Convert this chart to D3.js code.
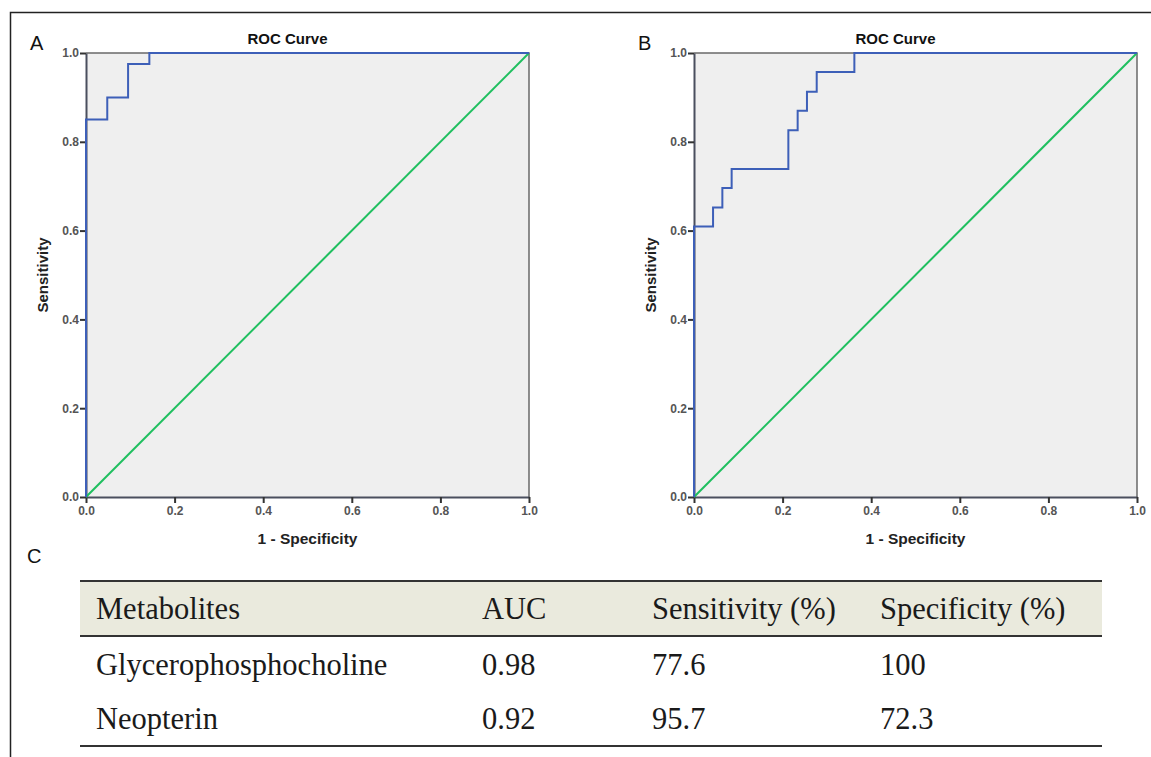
<!DOCTYPE html>
<html>
<head>
<meta charset="utf-8">
<script src="https://cdn.jsdelivr.net/npm/d3@7"></script>
<style>
    body { margin: 0; background: #fff; }
    svg { display: block; }
</style>
</head>
<body>
<div id="chart"></div>
<script>
// ROC curve A: false positive rate / sensitivity at each step
var rocA_fpr = [0, 0, 0.048, 0.095, 0.143, 1.0];
var rocA_tpr = [0, 0.85, 0.90, 0.975, 1.0, 1.0];

// ROC curve B
var rocB_fpr = [0, 0, 0.043, 0.064, 0.085, 0.213, 0.234, 0.255, 0.277, 0.362, 1.0];
var rocB_tpr = [0, 0.609, 0.652, 0.696, 0.739, 0.826, 0.870, 0.913, 0.957, 1.0, 1.0];

var refLine = [0, 1];
var axisTicks = [0, 0.2, 0.4, 0.6, 0.8, 1.0];

// table C
var tableHeader = ["Metabolites", "AUC", "Sensitivity (%)", "Specificity (%)"];
var tableMetabolites = ["Glycerophosphocholine", "Neopterin"];
var tableAUC = ["0.98", "0.92"];
var tableSens = ["77.6", "95.7"];
var tableSpec = ["100", "72.3"];

var W = 1151, H = 757,
    sans = "'Liberation Sans', Arial, sans-serif",
    serif = "'Liberation Serif', 'Times New Roman', serif";

var svg = d3.select("#chart").append("svg").attr("width", W).attr("height", H);

// outer frame
svg.append("path")
    .attr("d", "M10.5," + H + "V12.5H" + W)
    .attr("fill", "none").attr("stroke", "#222").attr("stroke-width", 1.5);

function drawRoc(left, label, fpr, tpr) {
    var x = d3.scaleLinear().domain([0, 1]).range([left, left + 443]),
        y = d3.scaleLinear().domain([0, 1]).range([497, 53]),
        g = svg.append("g");

    g.append("rect")
        .attr("x", x(0)).attr("y", y(1))
        .attr("width", x(1) - x(0)).attr("height", y(0) - y(1))
        .attr("fill", "#efefef");

    // top and right edges of frame
    g.append("path")
        .attr("d", "M" + x(0) + "," + y(1) + "H" + x(1) + "V" + y(0))
        .attr("fill", "none").attr("stroke", "#6a6a6a").attr("stroke-width", 1.5);

    var xAxis = g.append("g").attr("transform", "translate(0," + y(0) + ")")
        .call(d3.axisBottom(x).tickValues(axisTicks).tickFormat(d3.format(".1f"))
            .tickSize(6).tickSizeOuter(0).tickPadding(3));
    var yAxis = g.append("g").attr("transform", "translate(" + x(0) + ",0)")
        .call(d3.axisLeft(y).tickValues(axisTicks).tickFormat(d3.format(".1f"))
            .tickSize(6).tickSizeOuter(0).tickPadding(1));
    [xAxis, yAxis].forEach(function (a) {
        a.select(".domain").attr("stroke", "#4a4f5e").attr("stroke-width", 2);
        a.selectAll(".tick line").attr("stroke", "#333").attr("stroke-width", 2);
        a.selectAll(".tick text")
            .style("font-family", sans).style("font-size", "12px")
            .style("font-weight", "bold").style("fill", "#555");
    });

    // reference diagonal
    g.append("line")
        .attr("x1", x(refLine[0])).attr("y1", y(refLine[0]))
        .attr("x2", x(refLine[1])).attr("y2", y(refLine[1]))
        .attr("stroke", "#1fbf5f").attr("stroke-width", 2);

    var pts = fpr.map(function (d, i) { return [d, tpr[i]]; });
    g.append("path")
        .datum(pts)
        .attr("d", d3.line().x(function (d) { return x(d[0]); }).y(function (d) { return y(d[1]); }).curve(d3.curveStepAfter))
        .attr("fill", "none").attr("stroke", "#3d5fb8").attr("stroke-width", 2);

    g.append("text").text("ROC Curve")
        .attr("x", (x(0) + x(1)) / 2 - 20).attr("y", 44)
        .attr("text-anchor", "middle").attr("font-family", sans).attr("font-weight", "bold")
        .attr("font-size", 15).attr("fill", "#111");

    g.append("text").text("1 - Specificity")
        .attr("x", (x(0) + x(1)) / 2).attr("y", 544)
        .attr("text-anchor", "middle").attr("font-family", sans).attr("font-weight", "bold")
        .attr("font-size", 15.5).attr("fill", "#222");

    g.append("text").text("Sensitivity")
        .attr("transform", "translate(" + (x(0) - 38) + "," + ((y(0) + y(1)) / 2) + ") rotate(-90)")
        .attr("text-anchor", "middle").attr("font-family", sans).attr("font-weight", "bold")
        .attr("font-size", 15).attr("fill", "#222");

    svg.append("text").text(label)
        .attr("x", left - 56).attr("y", 50)
        .attr("font-family", sans).attr("font-size", 20).attr("fill", "#111");
}

drawRoc(86, "A", rocA_fpr, rocA_tpr);
drawRoc(694, "B", rocB_fpr, rocB_tpr);

// panel C table
svg.append("text").text("C")
    .attr("x", 27).attr("y", 563)
    .attr("font-family", sans).attr("font-size", 20).attr("fill", "#111");

var tLeft = 80, tRight = 1102,
    colX = [96, 482, 652, 880],
    rowY = [619, 675, 729];

svg.append("rect")
    .attr("x", tLeft).attr("y", 581).attr("width", tRight - tLeft).attr("height", 55)
    .attr("fill", "#eaeadd");

[581, 636, 746].forEach(function (yy) {
    svg.append("line")
        .attr("x1", tLeft).attr("x2", tRight).attr("y1", yy).attr("y2", yy)
        .attr("stroke", "#333").attr("stroke-width", 2);
});

var rows = [tableHeader].concat(tableMetabolites.map(function (m, i) {
    return [m, tableAUC[i], tableSens[i], tableSpec[i]];
}));

rows.forEach(function (row, r) {
    row.forEach(function (cell, c) {
        svg.append("text").text(cell)
            .attr("x", colX[c]).attr("y", rowY[r])
            .attr("font-family", serif).attr("font-size", 30.5).attr("fill", "#1a1a1a");
    });
});
</script>
</body>
</html>
